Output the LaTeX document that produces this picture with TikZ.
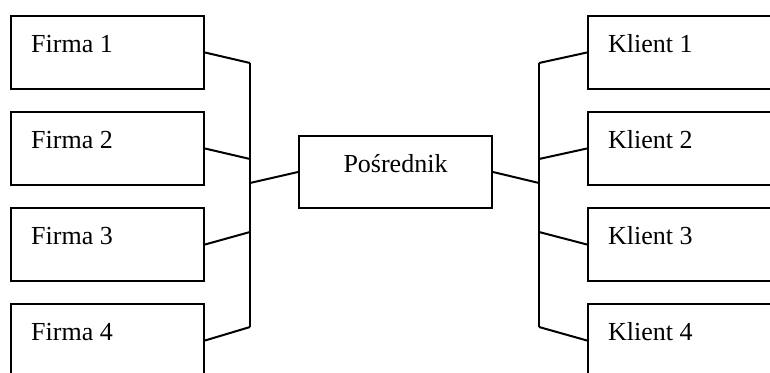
\documentclass[tikz,border=0pt]{standalone}
\usepackage{fontspec}
\setmainfont{Liberation Serif}
\begin{document}
\begin{tikzpicture}[x=1pt,y=-1pt,
  box/.style={draw, line width=2pt, minimum width=193pt, minimum height=73pt, inner sep=0pt, anchor=north west},
  lbl/.style={font=\fontsize{26}{30}\selectfont, anchor=base west, inner sep=0pt},
  wire/.style={line width=2pt}]
\useasboundingbox (0,0) rectangle (770,372);
\clip (0,0) rectangle (770,372);

% suppliers on the left
\node[box] (f1) at (10,15)  {};
\node[box] (f2) at (10,111) {};
\node[box] (f3) at (10,207) {};
\node[box] (f4) at (10,303) {};
\foreach \i/\t in {1/Firma 1,2/Firma 2,3/Firma 3,4/Firma 4}
  \node[lbl] (tf\i) at ([shift={(21,37)}]f\i.north west) {\t};

% intermediary in the middle
\node[box, minimum height=72pt] (p) at (298,135) {};
\node[lbl, anchor=base] (tp) at ([shift={(0,37)}]p.north) {Pośrednik};

% clients on the right
\node[box] (k1) at (587,15)  {};
\node[box] (k2) at (587,111) {};
\node[box] (k3) at (587,207) {};
\node[box] (k4) at (587,303) {};
\foreach \i/\t in {1/Klient 1,2/Klient 2,3/Klient 3,4/Klient 4}
  \node[lbl] (tk\i) at ([shift={(21,37)}]k\i.north west) {\t};

% junction points on the two vertical buses
\coordinate (l1) at (250,63);
\coordinate (l2) at (250,159);
\coordinate (lm) at (250,183);
\coordinate (l3) at (250,232);
\coordinate (l4) at (250,327);
\coordinate (r1) at (539,63);
\coordinate (r2) at (539,159);
\coordinate (rm) at (539,183);
\coordinate (r3) at (539,232);
\coordinate (r4) at (539,327);

% left bus
\draw[wire] (l1) -- (l4);
\foreach \i in {1,2,3,4} \draw[wire] (f\i.east) -- (l\i);
\draw[wire] (lm) -- (p.west);

% right bus
\draw[wire] (r1) -- (r4);
\foreach \i in {1,2,3,4} \draw[wire] (r\i) -- (k\i.west);
\draw[wire] (p.east) -- (rm);
\end{tikzpicture}
\end{document}
